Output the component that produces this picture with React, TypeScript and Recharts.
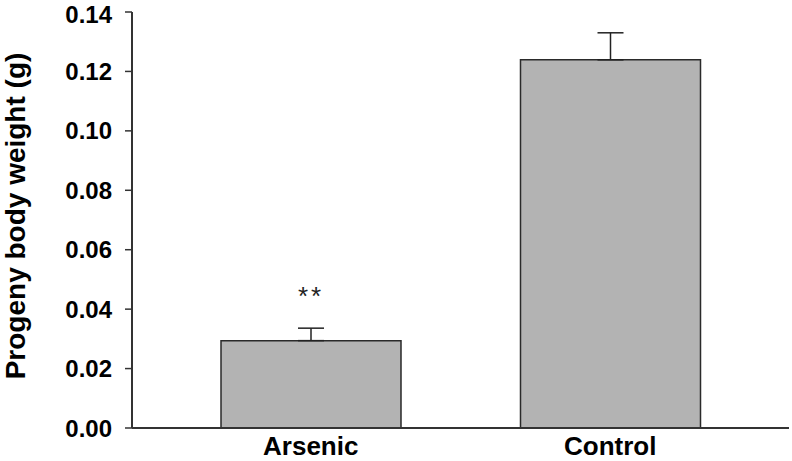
import { BarChart, Bar, XAxis, YAxis, ErrorBar, LabelList, Label } from 'recharts';

const groups = ['Arsenic', 'Control'];
const weights = [0.0294, 0.1239];
const errorsUp = [0.0042, 0.0091];
const marks = ['**', ''];
const yTicks = [0, 0.02, 0.04, 0.06, 0.08, 0.1, 0.12, 0.14];

const data = groups.map((g, i) => ({
  group: g,
  weight: weights[i],
  err: [0, errorsUp[i]],
  sig: marks[i],
}));

const font = '"Liberation Sans", Arial, sans-serif';
const axisColor = '#333333';

export default function App() {
  return (
    <div style={{ position: 'fixed', left: 0, top: 0, background: '#fff' }}>
      <BarChart
        width={792}
        height={461}
        data={data}
        margin={{ top: 12, right: 3, left: 0, bottom: 0 }}
        barSize={180}
      >
        <XAxis
          dataKey="group"
          height={33}
          padding={{ left: 29, right: 29 }}
          tickLine={false}
          tickSize={0}
          tickMargin={9}
          axisLine={{ stroke: axisColor, strokeWidth: 2 }}
          tick={{ fontSize: 26, fontWeight: 'bold', fill: '#000', fontFamily: font }}
        />
        <YAxis
          width={132}
          domain={[0, 0.14]}
          ticks={yTicks}
          tickFormatter={(v: number) => v.toFixed(2)}
          tickSize={7}
          tickMargin={13}
          tickLine={{ stroke: axisColor, strokeWidth: 1.5 }}
          axisLine={{ stroke: axisColor, strokeWidth: 2 }}
          tick={{ fontSize: 24, fontWeight: 'bold', fill: '#000', fontFamily: font }}
        >
          <Label
            value="Progeny body weight (g)"
            angle={-90}
            position="insideLeft"
            offset={15}
            dy={-4}
            style={{ fontSize: 28, fontWeight: 'bold', fill: '#000', fontFamily: font, textAnchor: 'middle' }}
          />
        </YAxis>
        <YAxis
          yAxisId="right"
          orientation="right"
          width={0}
          domain={[0, 0.14]}
          tick={false}
          tickLine={false}
          axisLine={{ stroke: axisColor, strokeWidth: 2 }}
        />
        <Bar dataKey="weight" fill="#b3b3b3" stroke="#2a2a2a" strokeWidth={1.5} isAnimationActive={false}>
          <ErrorBar dataKey="err" width={13} stroke="#222" strokeWidth={1.5} direction="y" />
          <LabelList
            dataKey="sig"
            position="top"
            offset={36}
            style={{ fontSize: 26, fill: '#222', fontFamily: font, letterSpacing: 3 }}
          />
        </Bar>
      </BarChart>
    </div>
  );
}
